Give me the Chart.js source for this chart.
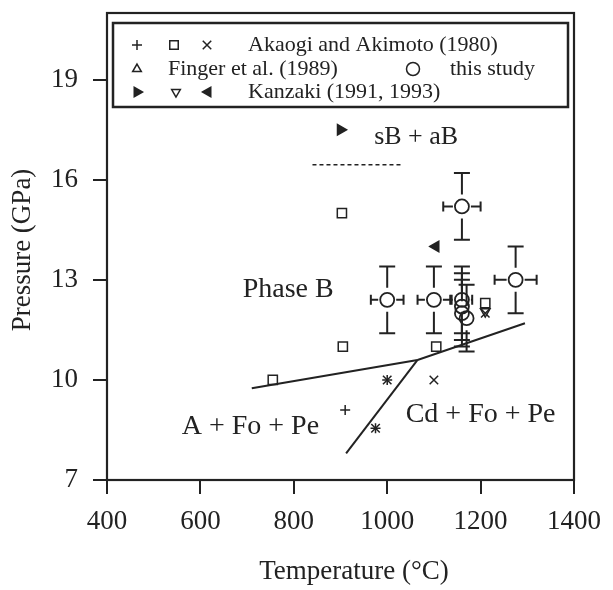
<!DOCTYPE html>
<html>
<head>
<meta charset="utf-8">
<script src="https://cdn.jsdelivr.net/npm/chart.js@4.4.1/dist/chart.umd.min.js"></script>
<style>
  html, body { margin: 0; padding: 0; background: #fff; }
  #wrap { width: 613px; height: 590px; position: relative; }
</style>
</head>
<body>
<div id="wrap"><canvas id="phaseChart"></canvas></div>
<script>
// Akaogi and Akimoto (1980)
const akaogiPlusT = [910, 1000, 975];
const akaogiPlusP = [9.1, 10, 8.55];
const akaogiSquareT = [755, 905, 903, 1105, 1210];
const akaogiSquareP = [10, 11, 15, 11, 12.3];
const akaogiCrossT = [1100, 1000, 975, 1210];
const akaogiCrossP = [10, 10, 8.55, 12.0];

// Kanzaki (1991, 1993)
const kanzakiRightT = [900];
const kanzakiRightP = [17.5];
const kanzakiDownT = [1210];
const kanzakiDownP = [12.05];
const kanzakiLeftT = [1104];
const kanzakiLeftP = [14];

// this study, with error bars
const studyT = [1000, 1100, 1160, 1275, 1160, 1160, 1160, 1170];
const studyP = [12.4, 12.4, 15.2, 13.0, 12.4, 12.2, 12.0, 11.85];
const studyErrT = [35, 35, 40, 45, 22, 0, 0, 0];
const studyErrP = [1.0, 1.0, 1.0, 1.0, 1.0, 1.0, 1.0, 1.0];

// phase boundaries
const boundaryAT = [710, 1065, 1295];
const boundaryAP = [9.75, 10.6, 11.7];
const boundaryBT = [912, 1065];
const boundaryBP = [7.8, 10.6];
const dashedT = [840, 1030];
const dashedP = [16.45, 16.45];

// region labels
const regionText = ['sB + aB', 'Phase B', 'A + Fo + Pe', 'Cd + Fo + Pe'];
const regionT = [1062, 788, 707, 1200];
const regionP = [17.28, 12.7, 8.59, 8.95];
const regionSize = [26, 28, 28, 28];

const xTicks = [400, 600, 800, 1000, 1200, 1400];
const yTicks = [7, 10, 13, 16, 19];

const INK = '#222';
const SERIF = '"Liberation Serif", "Times New Roman", serif';

const pts = (xs, ys) => xs.map((x, i) => ({ x, y: ys[i] }));

function markerSet(label, xs, ys, style, extra) {
  return Object.assign({
    label,
    data: pts(xs, ys),
    pointStyle: style,
    pointRadius: 6,
    pointBorderWidth: 1.5,
    borderColor: INK,
    backgroundColor: 'rgba(0,0,0,0)',
    showLine: false
  }, extra || {});
}

function lineSet(xs, ys, extra) {
  return Object.assign({
    data: pts(xs, ys),
    showLine: true,
    pointRadius: 0,
    borderColor: INK,
    borderWidth: 2,
    tension: 0
  }, extra || {});
}

const errorBarPlugin = {
  id: 'errorBars',
  afterDatasetsDraw(chart) {
    const xs = chart.scales.x, ys = chart.scales.y;
    const ctx = chart.ctx;
    const r = 7;
    ctx.save();
    ctx.strokeStyle = INK;
    ctx.lineWidth = 2;
    studyT.forEach((t, i) => {
      const cx = xs.getPixelForValue(t);
      const cy = ys.getPixelForValue(studyP[i]);
      ctx.beginPath();
      if (studyErrP[i] > 0) {
        const top = ys.getPixelForValue(studyP[i] + studyErrP[i]);
        const bot = ys.getPixelForValue(studyP[i] - studyErrP[i]);
        ctx.moveTo(cx, top); ctx.lineTo(cx, cy - r - 5);
        ctx.moveTo(cx, cy + r + 5); ctx.lineTo(cx, bot);
        ctx.moveTo(cx - 8, top); ctx.lineTo(cx + 8, top);
        ctx.moveTo(cx - 8, bot); ctx.lineTo(cx + 8, bot);
      }
      if (studyErrT[i] > 0) {
        const lft = xs.getPixelForValue(t - studyErrT[i]);
        const rgt = xs.getPixelForValue(t + studyErrT[i]);
        ctx.moveTo(lft, cy); ctx.lineTo(cx - r - 2, cy);
        ctx.moveTo(cx + r + 2, cy); ctx.lineTo(rgt, cy);
        ctx.moveTo(lft, cy - 5); ctx.lineTo(lft, cy + 5);
        ctx.moveTo(rgt, cy - 5); ctx.lineTo(rgt, cy + 5);
      }
      ctx.stroke();
    });
    ctx.restore();
  }
};

const decorPlugin = {
  id: 'decor',
  afterDraw(chart) {
    const ctx = chart.ctx;
    const { left, right, top, bottom } = chart.chartArea;
    const xs = chart.scales.x, ys = chart.scales.y;
    ctx.save();
    // frame
    ctx.strokeStyle = INK;
    ctx.lineWidth = 2.2;
    ctx.strokeRect(left, top, right - left, bottom - top);

    // region labels
    ctx.fillStyle = INK;
    ctx.textAlign = 'center';
    ctx.textBaseline = 'middle';
    regionText.forEach((s, i) => {
      ctx.font = regionSize[i] + 'px ' + SERIF;
      ctx.fillText(s, xs.getPixelForValue(regionT[i]), ys.getPixelForValue(regionP[i]));
    });

    // axis titles
    ctx.font = '27px ' + SERIF;
    ctx.fillText('Temperature (\u00B0C)', 354, 572);
    ctx.save();
    ctx.translate(23, 250);
    ctx.rotate(-Math.PI / 2);
    ctx.fillText('Pressure (GPa)', 0, 0);
    ctx.restore();

    // legend box
    ctx.lineWidth = 2.5;
    ctx.strokeRect(113, 23, 455, 84);
    const draw = Chart.helpers.drawPoint;
    const sym = (style, x, y, opts) => {
      ctx.save();
      ctx.strokeStyle = INK;
      ctx.fillStyle = (opts && opts.fill) ? INK : 'rgba(0,0,0,0)';
      ctx.lineWidth = 1.5;
      draw(ctx, { pointStyle: style, radius: (opts && opts.r) || 5.5, rotation: (opts && opts.rot) || 0, borderWidth: 1.5 }, x, y);
      ctx.restore();
    };
    sym('cross', 137, 45, { r: 5 });
    sym('rect', 174, 45, { r: 6 });
    sym('crossRot', 207, 45, { r: 6 });
    sym('triangle', 137, 69, { r: 5 });
    sym('circle', 413, 69, { r: 6.5 });
    sym('triangle', 137, 92, { r: 5.5, rot: 90, fill: true });
    sym('triangle', 176, 92, { r: 5, rot: 180 });
    sym('triangle', 208, 92, { r: 5.5, rot: -90, fill: true });
    ctx.font = '22px ' + SERIF;
    ctx.textAlign = 'left';
    ctx.fillText('Akaogi and Akimoto (1980)', 248, 45);
    ctx.fillText('Finger et al. (1989)', 168, 69);
    ctx.fillText('this study', 450, 69);
    ctx.fillText('Kanzaki (1991, 1993)', 248, 92);
    ctx.restore();
  }
};

new Chart(document.getElementById('phaseChart'), {
  type: 'scatter',
  data: {
    datasets: [
      lineSet(boundaryAT, boundaryAP),
      lineSet(boundaryBT, boundaryBP),
      lineSet(dashedT, dashedP, { borderWidth: 1.5, borderDash: [4, 3] }),
      markerSet('Akaogi +', akaogiPlusT, akaogiPlusP, 'cross', { pointRadius: 5 }),
      markerSet('Akaogi square', akaogiSquareT, akaogiSquareP, 'rect', { pointRadius: 6.5 }),
      markerSet('Akaogi x', akaogiCrossT, akaogiCrossP, 'crossRot', { pointRadius: 6 }),
      markerSet('Kanzaki right', kanzakiRightT, kanzakiRightP, 'triangle', { rotation: 90, backgroundColor: INK }),
      markerSet('Kanzaki down', kanzakiDownT, kanzakiDownP, 'triangle', { rotation: 180, pointRadius: 5.5 }),
      markerSet('Kanzaki left', kanzakiLeftT, kanzakiLeftP, 'triangle', { rotation: -90, backgroundColor: INK }),
      markerSet('this study', studyT, studyP, 'circle', { pointRadius: 7, pointBorderWidth: 1.8 })
    ]
  },
  options: {
    responsive: true,
    maintainAspectRatio: false,
    animation: false,
    layout: { padding: { top: 13, right: 39, left: 0, bottom: 0 } },
    plugins: { legend: { display: false }, tooltip: { enabled: false } },
    scales: {
      x: {
        type: 'linear',
        min: 400, max: 1400,
        afterFit: (s) => { s.height = 110; s.paddingLeft = 0; s.paddingRight = 0; },
        afterBuildTicks: (s) => { s.ticks = xTicks.map(v => ({ value: v })); },
        grid: { drawOnChartArea: false, drawTicks: true, tickLength: 14, color: INK, lineWidth: 2 },
        border: { display: true, color: INK, width: 2 },
        ticks: { color: INK, padding: 12, maxRotation: 0, font: { family: SERIF, size: 27 }, callback: (v) => String(v) }
      },
      y: {
        type: 'linear',
        min: 7, max: 21,
        afterFit: (s) => { s.width = 107; s.paddingTop = 0; s.paddingBottom = 0; },
        afterBuildTicks: (s) => { s.ticks = yTicks.map(v => ({ value: v })); },
        grid: { drawOnChartArea: false, drawTicks: true, tickLength: 14, color: INK, lineWidth: 2 },
        border: { display: true, color: INK, width: 2 },
        ticks: { color: INK, padding: 15, font: { family: SERIF, size: 27 }, callback: (v) => String(v) }
      }
    }
  },
  plugins: [errorBarPlugin, decorPlugin]
});
</script>
</body>
</html>
